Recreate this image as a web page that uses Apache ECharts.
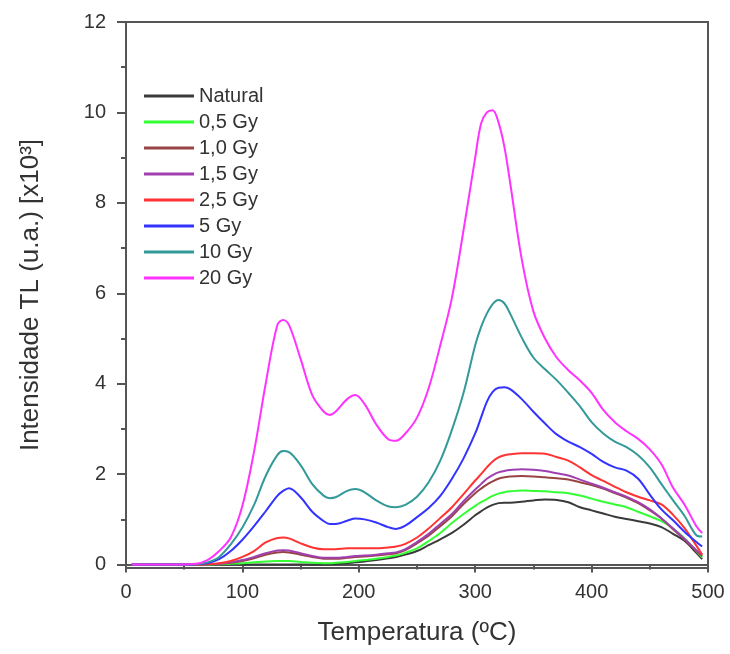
<!DOCTYPE html>
<html>
<head>
<meta charset="utf-8">
<title>Intensidade TL</title>
<script src="https://cdn.jsdelivr.net/npm/echarts@6.0.0/dist/echarts.min.js"></script>
<style>
  html, body { margin: 0; padding: 0; background: #fff; }
  #chart { width: 730px; height: 654px; }
</style>
</head>
<body>
<div id="chart"></div>
<script>
// temperatura (ºC)
var temps = [5, 30, 60, 70, 80, 90, 100, 110, 120, 130, 135, 140, 150, 160, 170, 175, 180, 190, 197, 205,
  215, 225, 232, 240, 250, 260, 270, 280, 290, 300, 305, 310, 315, 320, 325, 330, 340, 350, 360, 370,
  380, 390, 400, 410, 420, 430, 440, 450, 460, 470, 480, 490, 495];

// intensidade TL [x10^3]
var natural = [0, 0, 0, 0, 0, 0, 0, 0, 0, 0, 0, 0, 0, 0, 0, 0, 0.01, 0.03, 0.05, 0.07,
  0.1, 0.14, 0.17, 0.22, 0.3, 0.43, 0.56, 0.7, 0.88, 1.09, 1.18, 1.26, 1.32, 1.36, 1.37, 1.37, 1.39, 1.42, 1.44, 1.43,
  1.38, 1.27, 1.2, 1.13, 1.06, 1.01, 0.96, 0.91, 0.83, 0.68, 0.52, 0.26, 0.12];
var gy05 = [0, 0, 0, 0, 0.01, 0.02, 0.03, 0.05, 0.07, 0.08, 0.08, 0.08, 0.06, 0.04, 0.03, 0.03, 0.04, 0.06, 0.08, 0.1,
  0.13, 0.17, 0.2, 0.26, 0.36, 0.52, 0.7, 0.92, 1.12, 1.3, 1.38, 1.45, 1.52, 1.57, 1.6, 1.62, 1.64, 1.63, 1.62, 1.6,
  1.58, 1.53, 1.46, 1.39, 1.33, 1.27, 1.17, 1.07, 0.96, 0.8, 0.58, 0.3, 0.16];
var gy10 = [0, 0, 0, 0.01, 0.02, 0.04, 0.08, 0.14, 0.22, 0.27, 0.28, 0.27, 0.22, 0.17, 0.13, 0.13, 0.13, 0.15, 0.17, 0.18,
  0.2, 0.23, 0.25, 0.32, 0.47, 0.64, 0.85, 1.07, 1.34, 1.58, 1.68, 1.77, 1.84, 1.9, 1.93, 1.95, 1.96, 1.95, 1.93, 1.91,
  1.88, 1.82, 1.76, 1.68, 1.58, 1.48, 1.36, 1.2, 1.02, 0.78, 0.55, 0.3, 0.19];
var gy15 = [0, 0, 0, 0.01, 0.02, 0.05, 0.1, 0.17, 0.25, 0.31, 0.32, 0.31, 0.25, 0.19, 0.15, 0.15, 0.15, 0.17, 0.19, 0.2,
  0.22, 0.25, 0.27, 0.34, 0.5, 0.68, 0.9, 1.12, 1.4, 1.66, 1.78, 1.9, 1.98, 2.04, 2.07, 2.09, 2.11, 2.1, 2.07, 2.02,
  1.97, 1.88, 1.79, 1.7, 1.6, 1.5, 1.38, 1.22, 1.02, 0.8, 0.56, 0.32, 0.22];
var gy25 = [0, 0, 0, 0.01, 0.03, 0.08, 0.17, 0.3, 0.49, 0.59, 0.6, 0.58, 0.47, 0.38, 0.34, 0.34, 0.34, 0.36, 0.36, 0.36,
  0.36, 0.38, 0.4, 0.46, 0.6, 0.8, 1.03, 1.27, 1.56, 1.86, 2.0, 2.15, 2.28, 2.37, 2.42, 2.44, 2.46, 2.46, 2.45, 2.38,
  2.3, 2.15, 1.98, 1.85, 1.72, 1.6, 1.5, 1.42, 1.33, 1.1, 0.8, 0.42, 0.22];
var gy5 = [0, 0, 0.01, 0.03, 0.12, 0.3, 0.55, 0.85, 1.18, 1.52, 1.63, 1.69, 1.49, 1.17, 0.96, 0.9, 0.9, 0.97, 1.02, 1.0,
  0.93, 0.83, 0.79, 0.86, 1.05, 1.25, 1.52, 1.9, 2.35, 2.9, 3.25, 3.6, 3.82, 3.91, 3.92, 3.88, 3.66, 3.38, 3.12, 2.88,
  2.72, 2.6, 2.45, 2.27, 2.15, 2.08, 1.9, 1.55, 1.22, 0.98, 0.72, 0.5, 0.4];
var gy10b = [0, 0, 0.01, 0.05, 0.17, 0.45, 0.82, 1.32, 1.96, 2.42, 2.51, 2.49, 2.2, 1.78, 1.52, 1.47, 1.49, 1.63, 1.67, 1.6,
  1.42, 1.29, 1.27, 1.32, 1.5, 1.82, 2.3, 2.98, 3.8, 4.85, 5.25, 5.55, 5.76, 5.85, 5.78, 5.55, 5.02, 4.58, 4.32, 4.08,
  3.8, 3.5, 3.15, 2.9, 2.72, 2.6, 2.42, 2.15, 1.78, 1.42, 1.07, 0.65, 0.62];
var gy20 = [0, 0, 0.02, 0.1, 0.3, 0.6, 1.3, 2.5, 4.0, 5.3, 5.41, 5.3, 4.55, 3.75, 3.38, 3.31, 3.38, 3.66, 3.75, 3.55,
  3.1, 2.78, 2.74, 2.9, 3.25, 3.9, 4.85, 5.9, 7.4, 9.0, 9.75, 10.0, 10.05, 9.78, 9.25, 8.45, 6.75, 5.6, 5.0, 4.58,
  4.3, 4.07, 3.8, 3.42, 3.15, 2.95, 2.78, 2.55, 2.22, 1.7, 1.32, 0.85, 0.7];

var seriesNames = ["Natural", "0,5 Gy", "1,0 Gy", "1,5 Gy", "2,5 Gy", "5 Gy", "10 Gy", "20 Gy"];
var seriesValues = [natural, gy05, gy10, gy15, gy25, gy5, gy10b, gy20];
var seriesColors = ["#3a3a3a", "#33ff33", "#994444", "#a040b0", "#ff3333", "#3333ff", "#339999", "#ff33ff"];

var yLabels = [0, 2, 4, 6, 8, 10, 12];
var yMinor = [1, 3, 5, 7, 9, 11];

var axisColor = "#555";
var textColor = "#333";
var font = "Liberation Sans, Arial, sans-serif";

var chart = echarts.init(document.getElementById("chart"));

var series = seriesNames.map(function (name, i) {
  return {
    name: name,
    type: "line",
    smooth: 0.35,
    symbol: "none",
    lineStyle: { color: seriesColors[i], width: 2 },
    itemStyle: { color: seriesColors[i] },
    data: temps.map(function (t, j) {
      return [t, seriesValues[i][j]];
    }),
    animation: false,
  };
});

chart.setOption({
  backgroundColor: "#fff",
  grid: {
    left: 126,
    right: 22,
    top: 22,
    bottom: 86,
    show: true,
    borderColor: axisColor,
    borderWidth: 2,
  },
  legend: {
    orient: "vertical",
    left: 139,
    top: 81,
    icon: "rect",
    itemWidth: 50,
    itemHeight: 3,
    itemGap: 6,
    data: seriesNames,
    textStyle: { fontSize: 20, color: textColor, fontFamily: font },
  },
  xAxis: {
    type: "value",
    min: 0,
    max: 500,
    interval: 100,
    name: "Temperatura (ºC)",
    nameLocation: "middle",
    nameGap: 52,
    nameTextStyle: { fontSize: 26, color: textColor, fontFamily: font },
    axisLine: { lineStyle: { color: axisColor, width: 2 } },
    axisTick: { length: 8, lineStyle: { color: axisColor, width: 2 } },
    minorTick: { show: true, splitNumber: 2, length: 5, lineStyle: { color: axisColor, width: 2 } },
    axisLabel: { fontSize: 20, color: textColor, fontFamily: font, margin: 14 },
    splitLine: { show: false },
  },
  yAxis: [
    {
      type: "value",
      position: "left",
      min: -0.075,
      max: 12,
      name: "Intensidade TL (u.a.) [x10³]",
      nameLocation: "middle",
      nameGap: 82,
      nameRotate: 90,
      nameTextStyle: { fontSize: 26, color: textColor, fontFamily: font },
      axisLine: { show: true, lineStyle: { color: axisColor, width: 2 } },
      axisTick: { show: true, length: 9, customValues: yLabels, lineStyle: { color: axisColor, width: 2 } },
      axisLabel: { customValues: yLabels, fontSize: 20, color: textColor, fontFamily: font, margin: 20 },
      splitLine: { show: false },
    },
    {
      type: "value",
      position: "left",
      min: -0.075,
      max: 12,
      axisLine: { show: false },
      axisTick: { show: true, length: 5, customValues: yMinor, lineStyle: { color: axisColor, width: 2 } },
      axisLabel: { show: false },
      splitLine: { show: false },
    },
  ],
  series: series,
});
</script>
</body>
</html>
